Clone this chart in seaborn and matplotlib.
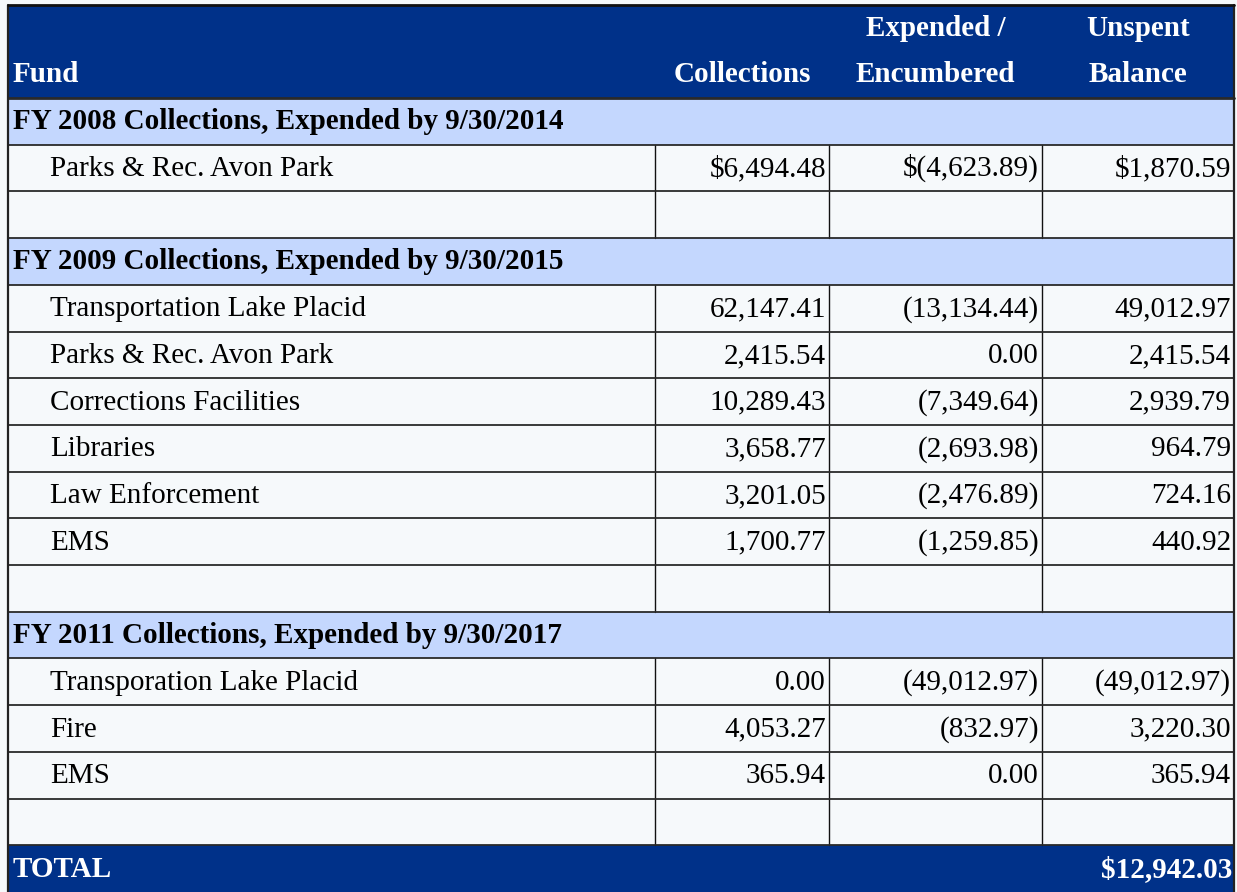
# plot.py
# Tabla de fondos de impacto (recreación con seaborn/matplotlib)

import numpy as np
import matplotlib.pyplot as plt
from matplotlib.patches import Rectangle
import seaborn as sns

# --- Datos ---
header_cols = ["Fund", "Collections", "Expended /\nEncumbered", "Unspent\nBalance"]

section_titles = [
    "FY 2008 Collections, Expended by 9/30/2014",
    "FY 2009 Collections, Expended by 9/30/2015",
    "FY 2011 Collections, Expended by 9/30/2017",
]

funds_fy2008 = ["Parks & Rec. Avon Park"]
collections_fy2008 = [6494.48]
expended_fy2008 = [-4623.89]
unspent_fy2008 = [1870.59]

funds_fy2009 = ["Transportation Lake Placid", "Parks & Rec. Avon Park",
                "Corrections Facilities", "Libraries", "Law Enforcement", "EMS"]
collections_fy2009 = [62147.41, 2415.54, 10289.43, 3658.77, 3201.05, 1700.77]
expended_fy2009 = [-13134.44, 0.00, -7349.64, -2693.98, -2476.89, -1259.85]
unspent_fy2009 = [49012.97, 2415.54, 2939.79, 964.79, 724.16, 440.92]

funds_fy2011 = ["Transporation Lake Placid", "Fire", "EMS"]
collections_fy2011 = [0.00, 4053.27, 365.94]
expended_fy2011 = [-49012.97, -832.97, 0.00]
unspent_fy2011 = [-49012.97, 3220.30, 365.94]

total_label = "TOTAL"

# --- Estilo ---
sns.set_theme(style="white")
plt.rcParams['font.family'] = ['Liberation Serif', 'DejaVu Serif']

COL_HEADER = "#003189"
COL_SECTION = "#C4D7FE"
COL_BODY = "#F6F9FB"
FS = 21

col_edges = [8, 655, 829, 1042, 1234]
top = 5
header_h = 93
row_h = (892 - top - header_h) / 17
BASE = 8  # desplazamiento de la línea base respecto al centro de fila


def fmt(v, dollar=False):
    s = f"{abs(v):,.2f}"
    if v < 0:
        s = f"({s})"
    if dollar:
        s = "\\$" + s
    return s


# construir filas
grupos = [
    (funds_fy2008, collections_fy2008, expended_fy2008, unspent_fy2008),
    (funds_fy2009, collections_fy2009, expended_fy2009, unspent_fy2009),
    (funds_fy2011, collections_fy2011, expended_fy2011, unspent_fy2011),
]
filas = []
for titulo, (f, c, e, u) in zip(section_titles, grupos):
    filas.append(("section", titulo, None))
    for i in range(len(f)):
        filas.append(("item", f[i], (c[i], e[i], u[i])))
    filas.append(("blank", "", None))
total = float(np.sum(unspent_fy2008 + unspent_fy2009 + unspent_fy2011))
filas.append(("total", total_label, total))

fig = plt.figure(figsize=(12.37, 8.92), dpi=100)
fig.patch.set_facecolor(COL_BODY)
ax = fig.add_axes([0, 0, 1, 1])
ax.set_xlim(0, 1237)
ax.set_ylim(892, 0)
ax.axis('off')

x0, x1 = col_edges[0], col_edges[-1]

# cabecera
ax.add_patch(Rectangle((x0, top), x1 - x0, header_h, facecolor=COL_HEADER, edgecolor='none'))
ax.text(x0 + 5, 82, header_cols[0], color='white', fontsize=FS,
        fontweight='bold', ha='left', va='baseline')
for j, h in enumerate(header_cols[1:], start=1):
    lineas = h.split("\n")
    cx = (col_edges[j] + col_edges[j + 1]) / 2
    if len(lineas) == 1:
        lineas = [""] + lineas
    for k, ln in enumerate(lineas):
        ax.text(cx, 36 + 46 * k, ln, color='white', fontsize=FS,
                fontweight='bold', ha='center', va='baseline')

primera = True
for i, (tipo, etiqueta, vals) in enumerate(filas):
    y = top + header_h + i * row_h
    yb = y + row_h / 2 + BASE
    if tipo == "section":
        ax.add_patch(Rectangle((x0, y), x1 - x0, row_h, facecolor=COL_SECTION, edgecolor='none'))
        ax.text(x0 + 5, yb, etiqueta, fontsize=FS, fontweight='bold', color='black',
                ha='left', va='baseline')
    elif tipo == "total":
        ax.add_patch(Rectangle((x0, y), x1 - x0, 892 - y, facecolor=COL_HEADER, edgecolor='none'))
        ax.text(x0 + 5, yb, etiqueta, fontsize=FS, fontweight='bold', color='white',
                ha='left', va='baseline')
        ax.text(x1 - 2, yb, fmt(vals, dollar=True), fontsize=FS, fontweight='bold',
                color='white', ha='right', va='baseline')
    else:
        ax.add_patch(Rectangle((x0, y), x1 - x0, row_h, facecolor=COL_BODY, edgecolor='none'))
        for xe in col_edges[1:-1]:
            ax.plot([xe, xe], [y, y + row_h], color='#111111', lw=1.0)
        if tipo == "item":
            ax.text(x0 + 42, yb, etiqueta, fontsize=FS, color='black', ha='left', va='baseline')
            for j, v in enumerate(vals):
                ax.text(col_edges[j + 2] - 3, yb, fmt(v, dollar=primera), fontsize=FS,
                        color='black', ha='right', va='baseline')
            primera = False
    # línea horizontal superior
    ax.plot([x0, x1], [y, y], color='#2a2a2a', lw=1.3 if i else 2.0)

# bordes exteriores
ax.plot([x0, x0], [top, 892], color='#222222', lw=1.6)
ax.plot([x1, x1], [top, 892], color='#222222', lw=1.6)
ax.plot([x0, x1], [top, top], color='#111111', lw=2.0)

plt.savefig('out.png', dpi=100, facecolor=fig.get_facecolor())
